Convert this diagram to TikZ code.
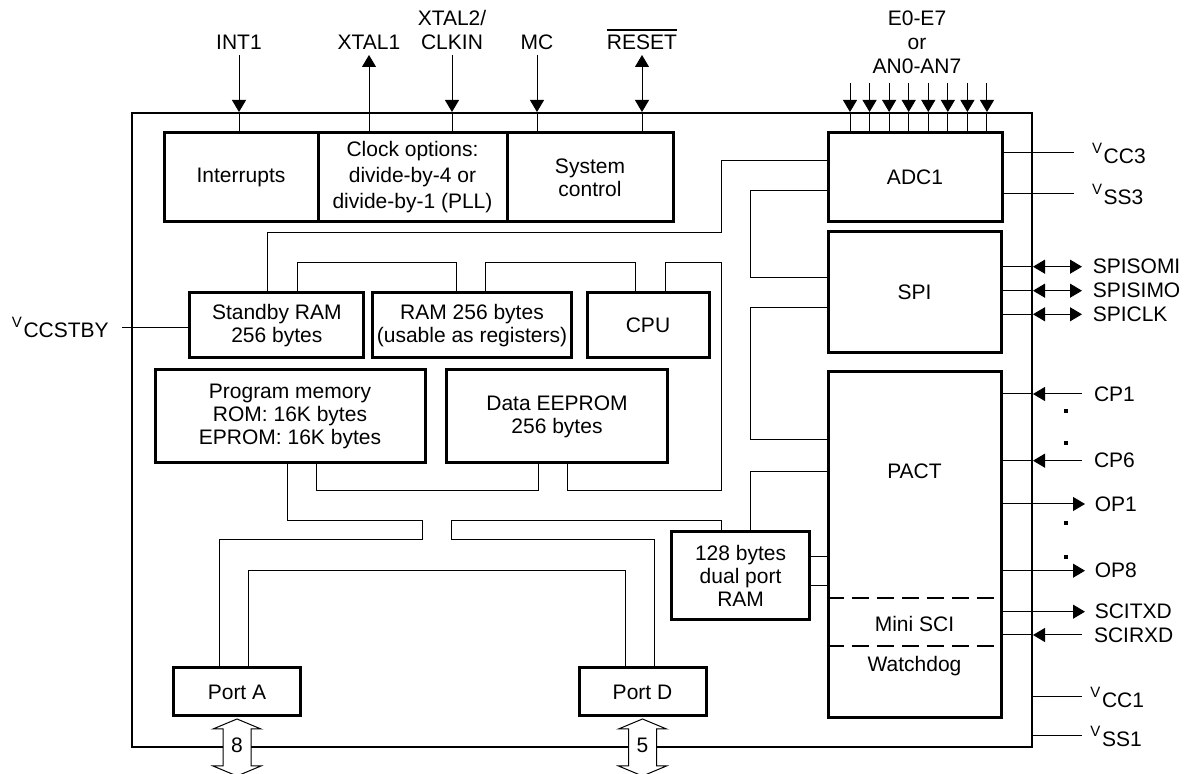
\documentclass[tikz,border=0pt]{standalone}
\usepackage{fontspec}
\setmainfont{Liberation Sans}
\usetikzlibrary{arrows.meta,positioning}

\newcommand{\vpin}[1]{\raisebox{5pt}{\fontsize{7.5}{9}\selectfont V}\kern0.8pt#1}
\newcommand{\barsig}[1]{\vbox{\hrule height 0.75pt\kern2pt\hbox{#1}}}

\tikzset{
        blk/.style = {rectangle,draw=black,line width=1.5pt,inner sep=1pt,align=center},
        chipbox/.style = {rectangle,draw=black,line width=1pt,minimum width=450pt,minimum height=317pt,inner sep=0pt},
        wire/.style = {line width=0.5pt},
        lbl/.style = {inner sep=1.5pt},
        dotm/.style = {rectangle,fill=black,inner sep=0pt,minimum size=1.6pt},
        fatarrow/.style = {line width=0.5pt,fill=white}
    }

\begin{document}
\begin{tikzpicture}[x=0.5pt,y=-0.5pt,>={Triangle[length=6pt,width=7pt]},every node/.style={font=\fontsize{10.5}{11.5}\selectfont}]
            \useasboundingbox (0,0) rectangle (1191,774);

            \node[chipbox] (chip) at (582,430) {};

            \node[blk,minimum width=77pt,minimum height=44.5pt] (intr) at (241,177.5) {Interrupts};
            \node[blk,minimum width=94.5pt,minimum height=44.5pt,font=\fontsize{10.5}{13}\selectfont] (clk) at (412.5,177.5) {Clock options:\\divide-by-4 or\\divide-by-1 (PLL)};
            \node[blk,minimum width=83pt,minimum height=44.5pt] (sysc) at (590,177.5) {System\\control};
            \node[blk,minimum width=87pt,minimum height=44.5pt] (adc) at (915,177.5) {ADC1};
            \node[blk,minimum width=86.5pt,minimum height=60.5pt] (spi) at (914.5,292.5) {SPI};
            \node[blk,minimum width=86.5pt,minimum height=173pt] (pact) at (914.5,545) {};

            \node[blk,minimum width=87pt,minimum height=32.5pt] (stby) at (276.8,325.5) {Standby RAM\\256 bytes};
            \node[blk,minimum width=99.3pt,minimum height=32.5pt] (ram) at (472,325.5) {RAM 256 bytes\\(usable as registers)};
            \node[blk,minimum width=61pt,minimum height=32.5pt] (cpu) at (648,325.5) {CPU};
            \node[blk,minimum width=135pt,minimum height=46.5pt] (prog) at (290,416.5) {Program memory\\ROM: 16K bytes\\EPROM: 16K bytes};
            \node[blk,minimum width=110.5pt,minimum height=46.5pt] (eep) at (557,416.5) {Data EEPROM\\256 bytes};
            \node[blk,minimum width=69pt,minimum height=44pt] (dpram) at (740.6,575.9) {128 bytes\\dual port\\RAM};
            \node[blk,minimum width=63.5pt,minimum height=24pt] (porta) at (237,692) {Port A};
            \node[blk,minimum width=63.5pt,minimum height=24pt] (portd) at (642.5,692) {Port D};

            % PACT sections
            \node (pactlbl) at (914.5,471.7) {PACT};
            \draw[line width=1pt,dash pattern=on 8.5pt off 4pt] (pact.west |- 0,598.3) -- (pact.east |- 0,598.3);
            \draw[line width=1pt,dash pattern=on 8.5pt off 4pt] (pact.west |- 0,645.7) -- (pact.east |- 0,645.7);
            \node (msci) at (914.5,624) {Mini SCI};
            \node (wdog) at (914.5,665.7) {Watchdog};

            % internal buses
            \draw[wire] (adc.west |- 0,160.7) -| (721.5,232.7) -| (267,0 |- stby.north);
            \draw[wire] (adc.west |- 0,190.7) -| (750.7,278) -- (spi.west |- 0,278);
            \draw[wire] (spi.west |- 0,308) -| (750.7,440) -- (pact.west |- 0,440);
            \draw[wire] (pact.west |- 0,472) -| (750.7,0 |- dpram.north);
            \draw[wire] (297,0 |- stby.north) |- (456,262.7) -- (456,0 |- ram.north);
            \draw[wire] (485,0 |- ram.north) |- (635,262.7) -- (635,0 |- cpu.north);
            \draw[wire] (665,0 |- cpu.north) |- (721,262.7) -- (721,490.7) -| (567,0 |- eep.south);
            \draw[wire] (316,0 |- prog.south) |- (538,491) -- (538,0 |- eep.south);
            \draw[wire] (287,0 |- prog.south) |- (422,520.7) |- (219.3,540) -- (219.3,0 |- porta.north);
            \draw[wire] (721,0 |- dpram.north) |- (451,520.7) |- (654,540) -- (654,0 |- portd.north);
            \draw[wire] (248,0 |- porta.north) |- (625.7,571) -- (625.7,0 |- portd.north);
            \draw[wire] (dpram.east |- 0,556.7) -- (pact.west |- 0,556.7);
            \draw[wire] (dpram.east |- 0,585.7) -- (pact.west |- 0,585.7);

            % top pins
            \coordinate (ptop) at (0,55);
            \node (int1) at (239,42) {INT1};
            \node (xtal1) at (369,42) {XTAL1};
            \node[font=\fontsize{10.5}{12}\selectfont,align=center] (xtal2) at (452,30) {XTAL2/\\CLKIN};
            \node (mc) at (537,42) {MC};
            \node (rst) at (642,39.3) {\barsig{RESET}};
            \foreach \p/\b in {int1/intr,xtal2/clk,mc/sysc}{
                \draw[wire,->] (\p.south |- ptop) -- (\p.south |- chip.north);
                \draw[wire] (\p.south |- chip.north) -- (\p.south |- \b.north);
            }
            \draw[wire,->] (xtal1.south |- clk.north) -- (xtal1.south |- ptop);
            \draw[wire,<->] (rst.south |- ptop) -- (rst.south |- chip.north);
            \draw[wire] (rst.south |- chip.north) -- (rst.south |- sysc.north);

            \node[font=\fontsize{10.5}{12}\selectfont,align=center] (ean) at (917,42) {E0-E7\\or\\AN0-AN7};
            \foreach \i [evaluate=\i as \xx using 850+19.57*\i] in {0,...,7}{
                \coordinate (e\i) at (\xx,83);
                \draw[wire,->] (e\i) -- (e\i |- chip.north);
                \draw[wire] (e\i |- chip.north) -- (e\i |- adc.north);
            }

            % supply pins
            \coordinate (vcc3) at (1074.3,152.7);
            \coordinate (vss3) at (1074.3,194);
            \draw[wire] (adc.east |- vcc3) -- (vcc3);
            \draw[wire] (adc.east |- vss3) -- (vss3);
            \node[lbl,anchor=base west] (lvcc3) at ([xshift=7.2pt,yshift=-5.3pt]vcc3) {\vpin{CC3}};
            \node[lbl,anchor=base west] (lvss3) at ([xshift=7.2pt,yshift=-5.3pt]vss3) {\vpin{SS3}};

            \coordinate (vstby) at (121.7,328);
            \draw[wire] (vstby) -- (stby.west |- vstby);
            \node[lbl,anchor=base east] (lvstby) at ([xshift=-4.8pt,yshift=-5pt]vstby) {\vpin{CCSTBY}};

            \coordinate (vcc1) at (1081.6,696.7);
            \coordinate (vss1) at (1081.6,736);
            \draw[wire] (chip.east |- vcc1) -- (vcc1);
            \draw[wire] (chip.east |- vss1) -- (vss1);
            \node[lbl,anchor=base west] (lvcc1) at ([xshift=2.7pt,yshift=-5.5pt]vcc1) {\vpin{CC1}};
            \node[lbl,anchor=base west] (lvss1) at ([xshift=2.7pt,yshift=-5.5pt]vss1) {\vpin{SS1}};

            % SPI and PACT pins
            \foreach \yy/\txt/\nm in {266.7/SPISOMI/somi,290.7/SPISIMO/simo,314.3/SPICLK/sclk}{
                \coordinate (\nm) at (1082,\yy);
                \draw[wire] (spi.east |- \nm) -- (chip.east |- \nm);
                \draw[wire,<->] (chip.east |- \nm) -- (\nm);
                \node[lbl,right=3.7pt of \nm] (l\nm) {\txt};
            }
            \foreach \yy/\txt/\nm in {394/CP1/cpa,460.7/CP6/cpf,635/SCIRXD/rxd}{
                \coordinate (\nm) at (1081.6,\yy);
                \draw[wire,->] (\nm) -- (chip.east |- \nm);
                \draw[wire] (chip.east |- \nm) -- (pact.east |- \nm);
                \node[lbl,right=4.5pt of \nm] (l\nm) {\txt};
            }
            \foreach \yy/\txt/\nm in {504/OP1/opa,570.7/OP8/oph,611.7/SCITXD/txd}{
                \coordinate (\nm) at (1085,\yy);
                \draw[wire,->] (pact.east |- \nm) -- (\nm);
                \node[lbl,right=3.2pt of \nm] (l\nm) {\txt};
            }
            \foreach \yy [count=\k] in {411,443,523,557}
                \node[dotm] (dot\k) at (1066,\yy) {};

            % port arrows
            \draw[fatarrow] ([yshift=-0.75pt]porta.south) -- ++(24,10) -- ++(-10,0) -- ++(0,37) -- ++(10,0) -- ++(-24,10) -- ++(-24,-10) -- ++(10,0) -- ++(0,-37) -- ++(-10,0) -- cycle;
            \draw[fatarrow] ([yshift=-0.75pt]portd.south) -- ++(24,10) -- ++(-10,0) -- ++(0,37) -- ++(10,0) -- ++(-24,10) -- ++(-24,-10) -- ++(10,0) -- ++(0,-37) -- ++(-10,0) -- cycle;
            \node (wa) at ([yshift=-14pt]porta.south) {8};
            \node (wd) at ([yshift=-14pt]portd.south) {5};
        \end{tikzpicture}
\end{document}
